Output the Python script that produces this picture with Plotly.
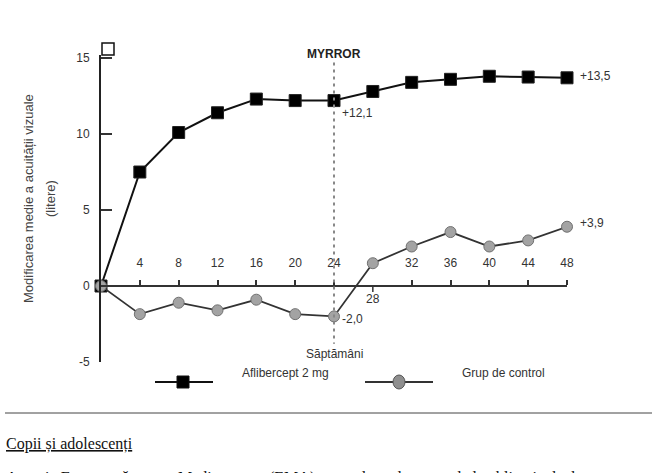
import plotly.graph_objects as go

weeks = [0, 4, 8, 12, 16, 20, 24, 28, 32, 36, 40, 44, 48]
aflibercept = [0, 7.5, 10.1, 11.4, 12.3, 12.2, 12.2, 12.8, 13.4, 13.6, 13.8, 13.75, 13.7]
control = [0, -1.85, -1.1, -1.6, -0.9, -1.85, -2.0, 1.5, 2.6, 3.55, 2.6, 3.0, 3.9]
xtick_vals = [4, 8, 12, 16, 20, 24, 32, 36, 40, 44, 48]
ytick_vals = [-5, 0, 5, 10, 15]
names = ["Aflibercept 2 mg", "Grup de control"]

W, H = 658, 473
L, R, T, B = 101, 91, 55, 111
YMIN, YMAX = -5, 15.2
FONT = "Liberation Sans, Arial, sans-serif"
TXT = "#333333"

def px(xp):
    return (xp - L) / (W - L - R)

def py(yp):
    return (H - B - yp) / (H - T - B)

fig = go.Figure()
fig.add_trace(go.Scatter(
    x=weeks, y=aflibercept, mode="lines+markers", name=names[0],
    line=dict(color="#111111", width=2),
    marker=dict(symbol="square", size=12, color="#000000", line=dict(color="#222222", width=1)),
    cliponaxis=False, showlegend=False))
fig.add_trace(go.Scatter(
    x=weeks, y=control, mode="lines+markers", name=names[1],
    line=dict(color="#333333", width=1.8),
    marker=dict(symbol="circle", size=11, color="#a3a3a3", line=dict(color="#707070", width=1)),
    cliponaxis=False, showlegend=False))

xpos = (0 - YMIN) / (YMAX - YMIN)
fig.update_layout(
    width=W, height=H, margin=dict(l=L, r=R, t=T, b=B),
    paper_bgcolor="white", plot_bgcolor="white",
    font=dict(family=FONT, size=12, color=TXT),
    xaxis=dict(range=[0, 48], showgrid=False, zeroline=False, showline=True,
               linecolor="#333333", linewidth=2, anchor="free", position=xpos,
               side="top", ticks="outside", ticklen=5, tickwidth=1.5, tickcolor="#333333",
               tickvals=xtick_vals, ticktext=[str(v) for v in xtick_vals],
               ticklabelstandoff=8, tickfont=dict(size=12, color=TXT, family=FONT)),
    yaxis=dict(range=[YMIN, YMAX], showgrid=False, zeroline=False, showline=True,
               linecolor="#222222", linewidth=2, ticks="inside", ticklen=11, tickwidth=1.5,
               tickcolor="#333333", tickvals=ytick_vals, ticktext=[str(v) for v in ytick_vals],
               ticklabelstandoff=7, tickfont=dict(size=12, color=TXT, family=FONT)),
)

shapes = []
# week 28 tick (below axis)
shapes.append(dict(type="line", xref="x", yref="y", x0=28, x1=28, y0=0, y1=-0.4,
                   line=dict(color="#333333", width=1.5)))
# dashed MYRROR line
shapes.append(dict(type="line", xref="x", yref="y", x0=24, x1=24, y0=14.7, y1=-3.8,
                   line=dict(color="#888888", width=2, dash="3px,4px")))
# small open square on top of y axis
shapes.append(dict(type="rect", xref="paper", yref="paper", x0=px(102), x1=px(114),
                   y0=py(55), y1=py(43), line=dict(color="#111111", width=1.5), fillcolor="white"))
# legend keys
shapes.append(dict(type="line", xref="paper", yref="paper", x0=px(155), x1=px(213),
                   y0=py(382), y1=py(382), line=dict(color="#111111", width=2)))
shapes.append(dict(type="rect", xref="paper", yref="paper", x0=px(177), x1=px(189),
                   y0=py(388), y1=py(376), line=dict(color="#111111", width=1), fillcolor="#000000"))
shapes.append(dict(type="line", xref="paper", yref="paper", x0=px(365), x1=px(433),
                   y0=py(382), y1=py(382), line=dict(color="#333333", width=2)))
shapes.append(dict(type="circle", xref="paper", yref="paper", x0=px(393), x1=px(405),
                   y0=py(389), y1=py(375), line=dict(color="#555555", width=1), fillcolor="#8f8f8f"))
# horizontal rule
shapes.append(dict(type="line", xref="paper", yref="paper", x0=px(5), x1=px(652),
                   y0=py(413), y1=py(413), line=dict(color="#444444", width=1)))
fig.update_layout(shapes=shapes)

ann = []
def a(text, x, y, xref="x", yref="y", **kw):
    d = dict(text=text, x=x, y=y, xref=xref, yref=yref, showarrow=False,
             font=kw.pop("font", dict(size=12, color=TXT, family=FONT)))
    d.update(kw)
    ann.append(d)

a("28", 28, -0.85)
a("<b>MYRROR</b>", 24, py(45), yref="paper", font=dict(size=12, color="#222222", family=FONT))
a("Săptămâni", 24, -4.45)
a("+12,1", 24.6, 11.4, xanchor="left")
a("-2,0", 24.6, -2.15, xanchor="left")
a("+13,5", px(578), 13.85, xref="paper", xanchor="left")
a("+3,9", px(578), 4.15, xref="paper", xanchor="left")
a("Modificarea medie a acuității vizuale", px(28), py(199), xref="paper", yref="paper",
  textangle=-90, xanchor="center", yanchor="middle",
  font=dict(size=13, color="#444444", family=FONT))
a("(litere)", px(50), py(199), xref="paper", yref="paper",
  textangle=-90, xanchor="center", yanchor="middle",
  font=dict(size=13, color="#444444", family=FONT))
a(names[0], px(240), py(382), xref="paper", yref="paper", xanchor="left")
a(names[1], px(460), py(382), xref="paper", yref="paper", xanchor="left")
a("<u>Copii și adolescenți</u>", px(4), py(455), xref="paper", yref="paper", xanchor="left",
  font=dict(size=16, color="#111111", family="Liberation Serif, Times New Roman, serif"))
a("Agenția Europeană pentru Medicamente (EMA) a acordat o derogare de la obligația de depunere",
  px(4), py(467), xref="paper", yref="paper", xanchor="left", yanchor="top",
  font=dict(size=16, color="#111111", family="Liberation Serif, Times New Roman, serif"))
fig.update_layout(annotations=ann)

fig.write_html("out.html")
